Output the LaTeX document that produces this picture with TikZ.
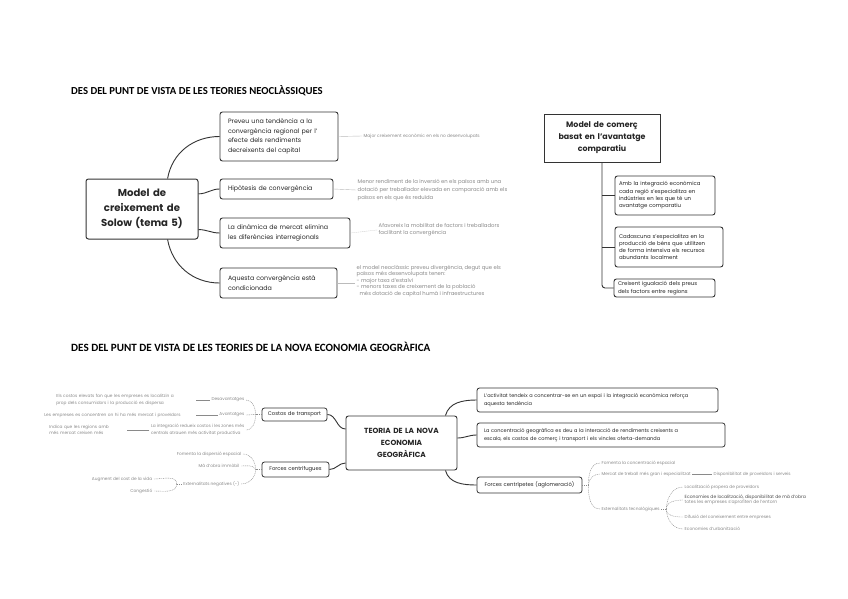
\documentclass[tikz,border=0pt]{standalone}
\usepackage{fontspec}
\setmainfont{Poppins}
\newfontfamily\titlefont{Carlito}
\usetikzlibrary{calc}
\definecolor{bd}{HTML}{333333}
\definecolor{lblc}{HTML}{8A8A8A}
\definecolor{lnc}{HTML}{BBBBBB}
\begin{document}
\begin{tikzpicture}[x=1pt,y=-1pt,
 box/.style={draw=bd, line width=0.9pt, rounded corners=2.5pt, fill=white, inner ysep=0pt, align=left, font=\fontsize{6.3}{9.6}\selectfont, text=black!85},
 cbox/.style={box, font=\fontsize{5.4}{7.3}\selectfont},
 bbox/.style={box, line width=0.8pt, font=\fontsize{5}{7.6}\selectfont},
 lbl/.style={font=\fontsize{4.3}{6.3}\selectfont, text=lblc, inner ysep=0pt, inner xsep=1.5pt, align=left},
 ttl/.style={anchor=west, inner sep=0pt, font=\titlefont\bfseries\fontsize{10.7}{12}\selectfont},
 conn/.style={draw=bd, line width=0.9pt},
 lconn/.style={draw=lnc, line width=0.4pt},
 dconn/.style={draw=lblc, line width=0.4pt, dash pattern=on 1pt off 0.8pt},
]
\useasboundingbox[fill=white] (0,0) rectangle (848,599);

% ---------- top section ----------
\node[ttl] (t1) at (71,91) {DES DEL PUNT DE VISTA DE LES TEORIES NEOCLÀSSIQUES};

\node[box, align=center, font=\bfseries\fontsize{10.1}{15}\selectfont, minimum width=112pt, minimum height=60pt, text width=106pt, inner xsep=3pt, line width=1pt] (solow) at (142,209) {Model de\\creixement de\\Solow (tema 5)};

\node[box, text width=102pt, inner xsep=8pt, minimum height=49pt] (prev) at (279,136.5) {Preveu una tendència a la\\convergència regional per l'\\efecte dels rendiments\\decreixents del capital};
\node[box, text width=97pt, inner xsep=8pt, minimum height=20pt] (hip) at (276.5,189) {Hipòtesis de convergència};
\node[box, text width=114pt, inner xsep=8pt, minimum height=30pt] (din) at (285,233) {La dinàmica de mercat elimina\\les diferències interregionals};
\node[box, text width=101pt, inner xsep=8pt, minimum height=30pt] (aqu) at (278.5,283) {Aquesta convergència està\\condicionada};

\draw[conn] (solow.50) to[out=80,in=180] (prev.west);
\draw[conn] (solow.15) to[out=0,in=180] (hip.west);
\draw[conn] (solow.-20) to[out=0,in=180] (din.west);
\draw[conn] (solow.-50) to[out=-80,in=180] (aqu.west);

\node[lbl, anchor=west, font=\fontsize{4.4}{6.3}\selectfont] (l1) at (362,136) {Major creixement econòmic en els no desenvolupats};
\node[lbl, anchor=west, font=\fontsize{5.3}{7.8}\selectfont] (l2) at (356,190) {Menor rendiment de la inversió en els països amb una\\dotació per treballador elevada en comparació amb els\\països en els que és reduïda};
\node[lbl, anchor=west, font=\fontsize{5.3}{6.8}\selectfont] (l3) at (377,230) {Afavoreix la mobilitat de factors i treballadors\\facilitant la convergència};
\node[lbl, anchor=west, font=\fontsize{5.3}{6.6}\selectfont] (l4) at (355,281) {el model neoclàssic preveu divergència, degut que els\\països més desenvolupats tenen:\\- major taxa d'estalvi\\- menors taxes de creixement de la població\\\ \ més dotació de capital humà i infraestructures};
\draw[lconn] (prev.east) -- (l1.west);
\draw[lconn] (hip.east) -- (l2.west);
\draw[lconn, dash pattern=on 1pt off 1pt] (din.east) -- (l3.west);
\draw[lconn] (aqu.east) -- (aqu.east -| l4.west);

% ---------- comparative advantage ----------
\node[box, rounded corners=0pt, align=center, font=\bfseries\fontsize{7.9}{12}\selectfont, minimum width=116pt, minimum height=48pt, text width=112pt, inner xsep=2pt] (com) at (602,138) {Model de comerç\\basat en l'avantatge\\comparatiu};
\node[cbox, text width=92pt, inner xsep=4pt, minimum height=39pt] (c1) at (665,195.5) {Amb la integració econòmica\\cada regió s'especialitza en\\indústries en les que té un\\avantatge comparatiu};
\node[cbox, text width=100pt, inner xsep=4pt, minimum height=40pt] (c2) at (669,247) {Cadascuna s'especialitza en la\\producció de béns que utilitzen\\de forma intensiva els recursos\\abundants localment};
\node[cbox, text width=93pt, inner xsep=4pt, minimum height=18pt] (c3) at (664.5,288) {Creixent igualació dels preus\\dels factors entre regions};
\draw[conn, rounded corners=3pt] (com.south) |- (c3.west);
\draw[conn] (com.south |- c1.west) -- (c1.west);
\draw[conn] (com.south |- c2.west) -- (c2.west);

% ---------- bottom section ----------
\node[ttl, font=\titlefont\bfseries\fontsize{11.1}{12}\selectfont] (t2) at (71,347) {DES DEL PUNT DE VISTA DE LES TEORIES DE LA NOVA ECONOMIA GEOGRÀFICA};

\node[box, align=center, font=\bfseries\fontsize{7.4}{12}\selectfont, minimum width=111pt, minimum height=54pt, text width=105pt, inner xsep=3pt] (teo) at (401.5,443) {TEORIA DE LA NOVA\\ECONOMIA\\GEOGRÀFICA};

\node[bbox, text width=227pt, inner xsep=7pt, minimum height=24pt] (A) at (597.5,400) {L'activitat tendeix a concentrar-se en un espai i la integració econòmica reforça\\aquesta tendència};
\node[bbox, text width=234pt, inner xsep=7pt, minimum height=24pt] (B) at (601,435) {La concentració geogràfica es deu a la interacció de rendiments creixents a\\escala, els costos de comerç i transport i els vincles oferta-demanda};
\node[bbox, align=center, text width=95pt, inner xsep=5pt, minimum height=16pt, font=\fontsize{5.3}{7}\selectfont] (C) at (529.5,485) {Forces centrípetes (aglomeració)};
\node[bbox, align=center, text width=59pt, inner xsep=3pt, minimum height=13pt, font=\fontsize{5.3}{7}\selectfont] (costos) at (294.5,414.5) {Costos de transport};
\node[bbox, align=center, text width=61pt, inner xsep=3pt, minimum height=15pt, font=\fontsize{5.3}{7}\selectfont] (centrif) at (295.5,469.5) {Forces centrífugues};

\draw[conn] ($(teo.north east)+(-12,0)$) to[out=75,in=180] (A.west);
\draw[conn] ($(teo.east)+(0,-5)$) to[out=0,in=180] (B.west);
\draw[conn] ($(teo.south east)+(-12,0)$) to[out=-75,in=180] (C.west);
\draw[conn] (costos.east) to[out=0,in=180] ($(teo.west)+(0,-14)$);
\draw[conn] (centrif.east) to[out=0,in=180] ($(teo.west)+(0,20)$);

% centripetal branches
\coordinate (P) at ($(C.east)+(6,0)$);
\node[lbl, anchor=west] (cc1) at (600,463) {Fomenta la concentració espacial};
\node[lbl, anchor=west] (cc2) at (600,474) {Mercat de treball més gran i especialitzat};
\node[lbl, anchor=west] (cc2b) at (712,474) {Disponibilitat de proveïdors i serveis};
\node[lbl, anchor=west] (cc3) at (600,509) {Externalitats tecnològiques};
\draw[dconn] (C.east) -- (P);
\draw[dconn] (P) to[out=90,in=180] (cc1.west);
\draw[dconn] (P) to[out=90,in=180] (cc2.west);
\draw[dconn] (P) to[out=-90,in=180] (cc3.west);
\draw[draw=lblc, line width=0.5pt] (cc2.east) -- (cc2b.west);

\coordinate (Q) at ($(cc3.east)+(5,0)$);
\node[lbl, anchor=west] (e1) at (683,487) {Localització propera de proveïdors};
\node[lbl, anchor=west, font=\fontsize{4.5}{5.6}\selectfont] (e2) at (683,500) {\textcolor{black!70}{Economies de localització, disponibilitat de mà d'obra}\\totes les empreses s'aprofiten de l'entorn};
\node[lbl, anchor=west] (e3) at (683,517) {Difusió del coneixement entre empreses};
\node[lbl, anchor=west] (e4) at (683,529) {Economies d'urbanització};
\draw[dconn] (cc3.east) -- (Q);
\draw[dconn] (Q) to[out=90,in=180] (e1.west);
\draw[dconn] (Q) to[out=90,in=180] (e2.west);
\draw[dconn] (Q) to[out=-90,in=180] (e3.west);
\draw[dconn] (Q) to[out=-90,in=180] (e4.west);

% transport cost branches
\coordinate (R) at ($(costos.west)+(-6,0)$);
\node[lbl, anchor=east] (k1) at (246,400) {Desavantatges};
\node[lbl, anchor=east] (k2) at (246,415) {Avantatges};
\node[lbl, anchor=east] (k3) at (246,430) {La integració redueix costos i les zones més\\centrals atrauen més activitat productiva};
\draw[dconn] (costos.west) -- (R);
\draw[dconn] (R) to[out=90,in=0] (k1.east);
\draw[dconn] (R) -- (k2.east);
\draw[dconn] (R) to[out=-90,in=0] (k3.east);
\node[lbl, anchor=east, text width=138pt] (k1a) at (196,400) {Els costos elevats fan que les empreses es localitzin a\\prop dels consumidors i la producció es dispersa};
\node[lbl, anchor=east, text width=150pt] (k2a) at (196,415) {Les empreses es concentren on hi ha més mercat i proveïdors};
\node[lbl, anchor=east, text width=76pt] (k3a) at (127,430) {Indica que les regions amb\\més mercat creixen més};
\draw[draw=lblc, line width=0.5pt] (k1.west) -- (k1a.east);
\draw[draw=lblc, line width=0.5pt] (k2.west) -- (k2a.east);
\draw[draw=lblc, line width=0.5pt] (k3.west) -- (k3a.east);

% centrifugal branches
\coordinate (S) at ($(centrif.west)+(-6,0)$);
\node[lbl, anchor=east] (f1) at (243,454) {Fomenta la dispersió espacial};
\node[lbl, anchor=east] (f2) at (241,466) {Mà d'obra immòbil};
\node[lbl, anchor=east] (f3) at (241,484) {Externalitats negatives (-)};
\draw[dconn] (centrif.west) -- (S);
\draw[dconn] (S) to[out=90,in=0] (f1.east);
\draw[dconn] (S) to[out=120,in=0] (f2.east);
\draw[dconn] (S) to[out=-90,in=0] (f3.east);
\coordinate (T) at ($(f3.west)+(-5,0)$);
\node[lbl, anchor=east] (g1) at (154,479) {Augment del cost de la vida};
\node[lbl, anchor=east] (g2) at (154,491) {Congestió};
\draw[dconn] (f3.west) -- (T);
\draw[dconn] (T) to[out=90,in=0] (g1.east);
\draw[dconn] (T) to[out=-90,in=0] (g2.east);
\end{tikzpicture}
\end{document}
